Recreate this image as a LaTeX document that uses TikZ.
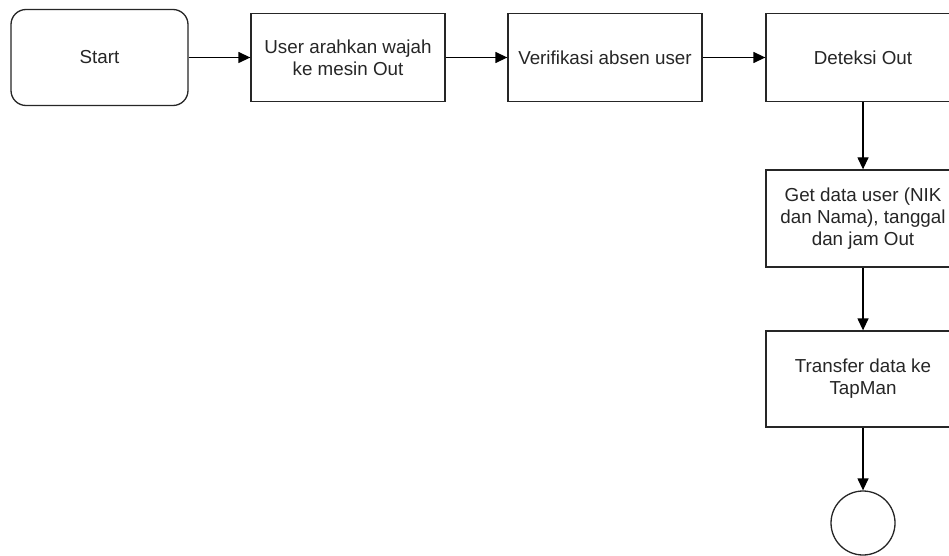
\documentclass[tikz,border=0pt]{standalone}
\usepackage{fontspec}
\setmainfont{Liberation Sans}
\usetikzlibrary{arrows.meta}
\begin{document}
\begin{tikzpicture}[x=1pt,y=-1pt,
  every node/.style={font=\fontsize{18.8}{22.2}\selectfont, text=black!85, align=center},
  procbox/.style={draw=black!85, line width=1.3pt, fill=white, minimum width=194pt, minimum height=88pt, inner sep=0pt},
  startbox/.style={draw=black!85, line width=1.3pt, fill=white, rounded corners=15pt, minimum width=177pt, minimum height=96pt, inner sep=0pt},
  endcirc/.style={draw=black!85, line width=1.3pt, fill=white, circle, minimum size=64pt, inner sep=0pt},
  flow/.style={draw=black, line width=1.3pt, -{Triangle[length=12pt,width=11pt]}}
]
\useasboundingbox (0,0) rectangle (949,556);
\node[startbox] (start) at (99.5,57.5) {Start};
\node[procbox] (user) at (348,57.5) {User arahkan wajah\\ke mesin Out};
\node[procbox] (verif) at (605,57.5) {Verifikasi absen user};
\node[procbox] (detect) at (863,57.5) {Deteksi Out};
\node[procbox, minimum height=97pt] (getdata) at (863,218.5) {Get data user (NIK\\dan Nama), tanggal\\dan jam Out};
\node[procbox, minimum height=96pt] (transfer) at (863,379) {Transfer data ke\\TapMan};
\node[endcirc] (end) at (863,523) {};
\draw[flow] (start) -- (user);
\draw[flow] (user) -- (verif);
\draw[flow] (verif) -- (detect);
\draw[flow] (detect) -- (getdata);
\draw[flow] (getdata) -- (transfer);
\draw[flow] (transfer) -- (end);
\end{tikzpicture}
\end{document}
